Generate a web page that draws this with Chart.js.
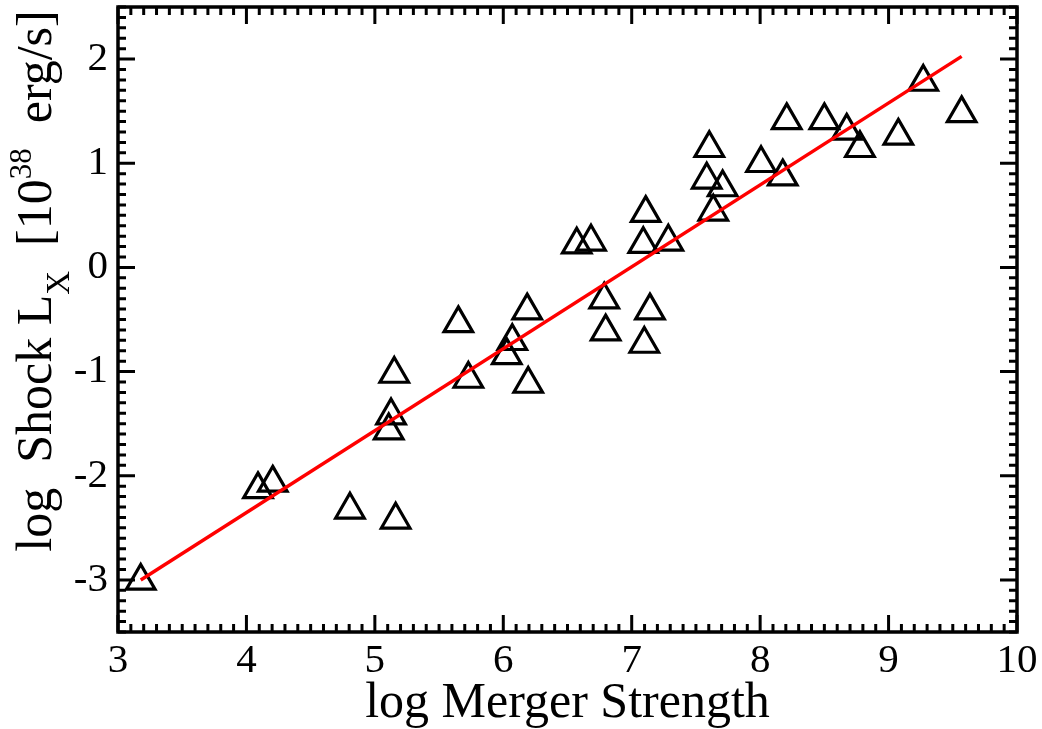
<!DOCTYPE html>
<html>
<head>
<meta charset="utf-8">
<script src="https://cdn.jsdelivr.net/npm/chart.js@4/dist/chart.umd.min.js"></script>
<style>
  html, body { margin: 0; padding: 0; background: #fff; }
  #wrap { width: 1042px; height: 729px; }
</style>
</head>
<body>
<div id="wrap"><canvas id="c" width="1042" height="729"></canvas></div>
<script>
// log merger strength vs log shock luminosity (1e38 erg/s)
const mergerStrength = [
  3.177, 4.090, 4.205, 4.806, 5.162, 5.151, 5.126, 5.108, 5.650, 5.728,
  6.070, 6.027, 6.186, 6.194, 6.572, 6.683, 6.786, 6.797, 7.109, 7.090,
  7.285, 7.142, 7.098, 7.604, 7.584, 7.708, 7.635, 8.007, 8.176, 8.207,
  8.500, 8.674, 8.777, 9.076, 9.270, 9.569
];
const shockLx = [
  -3.01, -2.131, -2.068, -2.327, -2.423, -1.023, -1.422, -1.566, -0.537, -1.071,
  -0.709, -0.844, -0.415, -1.119, 0.218, 0.246, -0.310, -0.616, 0.521, 0.223,
  0.246, -0.415, -0.735, 1.144, 0.841, 0.767, 0.534, 1.000, 0.872, 1.412,
  1.412, 1.311, 1.144, 1.263, 1.780, 1.479
];
// fitted relation, end points
const fitX = [3.177, 9.569];
const fitY = [-3.0, 2.026];

const xTicks = [3, 4, 5, 6, 7, 8, 9, 10];
const yTicks = [-3, -2, -1, 0, 1, 2];

const serif = "'Liberation Serif', 'DejaVu Serif', serif";

// frame with inward major/minor ticks on all four sides
const framePlugin = {
  id: 'frame',
  afterDraw(chart) {
    const ctx = chart.ctx;
    const a = chart.chartArea;
    const xs = chart.scales.x, ys = chart.scales.y;
    ctx.save();
    ctx.strokeStyle = '#000';
    ctx.lineCap = 'butt';
    ctx.lineWidth = 3;
    for (let i = 30; i <= 100; i++) {
      const px = xs.getPixelForValue(i / 10);
      const len = i % 10 === 0 ? 17 : 8;
      ctx.beginPath();
      ctx.moveTo(px, a.bottom); ctx.lineTo(px, a.bottom - len);
      ctx.moveTo(px, a.top); ctx.lineTo(px, a.top + len);
      ctx.stroke();
    }
    for (let i = -35; i <= 25; i++) {
      const py = ys.getPixelForValue(i / 10);
      const len = i % 10 === 0 ? 17 : 8;
      ctx.beginPath();
      ctx.moveTo(a.left, py); ctx.lineTo(a.left + len, py);
      ctx.moveTo(a.right, py); ctx.lineTo(a.right - len, py);
      ctx.stroke();
    }
    ctx.lineWidth = 3.5;
    ctx.lineJoin = 'miter';
    ctx.strokeRect(a.left, a.top, a.right - a.left, a.bottom - a.top);

    // axis titles
    ctx.fillStyle = '#000';
    ctx.font = '50px ' + serif;
    ctx.textAlign = 'center';
    ctx.textBaseline = 'alphabetic';
    ctx.fillText('log Merger Strength', (a.left + a.right) / 2, 717);

    const parts = [
      { t: 'log  Shock L', s: 50, dy: 0 },
      { t: 'X', s: 33, dy: 18 },
      { t: '  [10', s: 50, dy: 0 },
      { t: '38', s: 31, dy: -20 },
      { t: '  erg/s]', s: 50, dy: 0 }
    ];
    ctx.textAlign = 'left';
    let total = 0;
    parts.forEach(p => { ctx.font = p.s + 'px ' + serif; p.w = ctx.measureText(p.t).width; total += p.w; });
    ctx.translate(51, 281 + total / 2);
    ctx.rotate(-Math.PI / 2);
    let pos = 0;
    parts.forEach(p => {
      ctx.font = p.s + 'px ' + serif;
      ctx.fillText(p.t, pos, p.dy);
      pos += p.w;
    });
    ctx.restore();
  }
};

new Chart(document.getElementById('c'), {
  type: 'scatter',
  data: {
    datasets: [
      {
        label: 'fit',
        data: fitX.map((x, i) => ({ x: x, y: fitY[i] })),
        showLine: true,
        borderColor: '#ff0000',
        borderWidth: 3.5,
        pointRadius: 0,
        fill: false
      },
      {
        label: 'mergers',
        data: mergerStrength.map((x, i) => ({ x: x, y: shockLx[i] })),
        pointStyle: 'triangle',
        pointRadius: 16.5,
        pointHoverRadius: 16.5,
        borderColor: '#000',
        backgroundColor: 'rgba(0,0,0,0)',
        borderWidth: 3.2
      }
    ]
  },
  options: {
    responsive: false,
    animation: false,
    devicePixelRatio: 1,
    layout: { autoPadding: false, padding: { top: 7, right: 25, left: 0, bottom: 0 } },
    plugins: { legend: { display: false }, tooltip: { enabled: false } },
    scales: {
      x: {
        type: 'linear',
        min: 3, max: 10,
        afterBuildTicks: s => { s.ticks = xTicks.map(v => ({ value: v })); },
        afterFit: s => { s.height = 97; s.paddingLeft = 0; s.paddingRight = 0; },
        grid: { display: false, drawTicks: false },
        border: { display: false },
        ticks: { color: '#000', padding: 5, maxRotation: 0, font: { family: serif, size: 41 } }
      },
      y: {
        type: 'linear',
        min: -3.5, max: 2.5,
        afterBuildTicks: s => { s.ticks = yTicks.map(v => ({ value: v })); },
        afterFit: s => { s.width = 118; s.paddingTop = 0; s.paddingBottom = 0; },
        grid: { display: false, drawTicks: false },
        border: { display: false },
        ticks: { color: '#000', padding: 10, font: { family: serif, size: 41 } }
      }
    }
  },
  plugins: [framePlugin]
});
</script>
</body>
</html>
